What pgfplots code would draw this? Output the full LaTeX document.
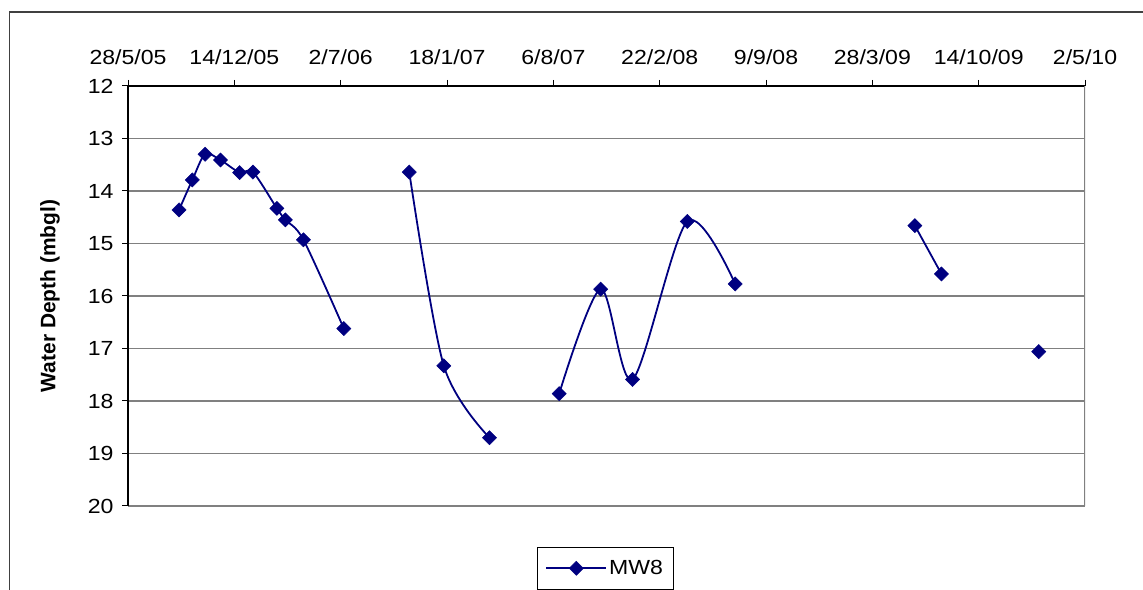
\documentclass[border=0pt]{standalone}
\usepackage{pgfplots}
\pgfplotsset{compat=1.18}
\usepackage{fontspec}
\setmainfont{Liberation Sans}
\newfontfamily\tickfont{Liberation Sans}[FakeStretch=1.13]
\definecolor{navy}{RGB}{0,0,128}
\begin{document}
\begin{tikzpicture}[x=1bp,y=1bp]
\useasboundingbox (0,0) rectangle (1143,590);
\draw[line width=1.5bp, black!75] (9.5,-5) -- (9.5,578) -- (1150,578);
\node[rotate=90, font=\bfseries\fontsize{21}{24}\selectfont] at (50,294) {Water Depth (mbgl)};
\begin{axis}[
  at={(128bp,84bp)}, anchor=south west,
  scale only axis, width=957bp, height=420bp,
  xmin=0, xmax=1800, ymin=12, ymax=20, y dir=reverse,
  axis x line*=top, axis y line*=left,
  axis line style={black, line width=1.2bp, -},
  xtick={0,200,...,1800},
  xticklabels={28/5/05,14/12/05,2/7/06,18/1/07,6/8/07,22/2/08,9/9/08,28/3/09,14/10/09,2/5/10},
  ytick={12,...,20},
  ymajorgrids, major grid style={black!50, line width=1.3bp},
  tick align=outside, major tick length=6bp, tick style={black, line width=1bp},
  ticklabel style={font=\tickfont\fontsize{20.5}{24}\selectfont},
  xticklabel style={yshift=12bp},
  yticklabel style={xshift=-5bp},
  /pgf/number format/assume math mode=true,
  legend style={at={(axis description cs:0.4274,-0.0976)}, anchor=north west, draw=black, line width=0.8bp,
    font=\tickfont\fontsize{20.5}{24}\selectfont, inner xsep=8bp, inner ysep=11bp},
  legend image code/.code={\draw[mark repeat=2, mark phase=2] plot coordinates {(0bp,0bp) (30bp,0bp) (60bp,0bp)};},
  mw/.style={navy, line width=1.8bp, mark=square*, mark size=5bp, mark options={rotate=45, line width=0.5bp, solid, fill=navy, draw=navy}},
]
\draw[black!50, line width=1.3bp] (rel axis cs:1,0) -- (rel axis cs:1,1);
\addplot[mw, smooth] coordinates {(96,14.36) (121,13.79) (145,13.30) (174,13.41) (210,13.65) (235,13.64) (280,14.33) (296,14.55) (330,14.93) (406,16.62)};
\addlegendentry{MW8}
\addplot[mw, smooth, forget plot] coordinates {(529,13.64) (594,17.33) (680,18.70)};
\addplot[mw, smooth, forget plot] coordinates {(811,17.86) (889,15.87) (949,17.59) (1052,14.58) (1142,15.77)};
\addplot[mw, smooth, forget plot] coordinates {(1480,14.66) (1530,15.58)};
\addplot[mw, only marks, forget plot] coordinates {(1713,17.06)};
\end{axis}
\end{tikzpicture}
\end{document}
